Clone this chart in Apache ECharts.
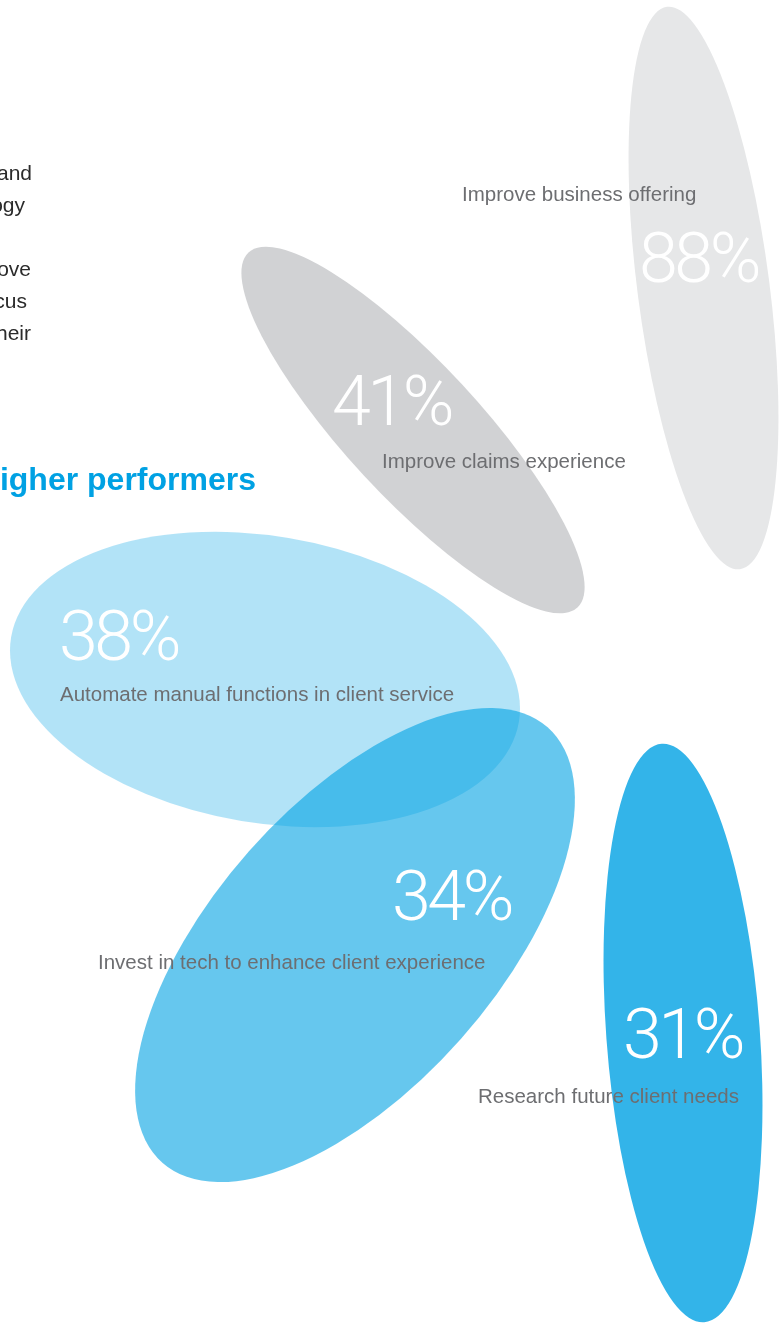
<!DOCTYPE html>
<html>
<head>
<meta charset="utf-8">
<script src="https://cdn.jsdelivr.net/npm/echarts@6/dist/echarts.min.js"></script>
<style>
html,body{margin:0;padding:0;background:#fff;}
#chart{width:780px;height:1323px;}
</style>
</head>
<body>
<div id="chart"></div>
<script>
// ---- data ----
const categories = [
  'Improve business offering',
  'Improve claims experience',
  'Automate manual functions in client service',
  'Invest in tech to enhance client experience',
  'Research future client needs'
];
const values = [88, 41, 38, 34, 31];
const heading = 'Higher performers';
const introWords = ['and', 'technology', 'improve', 'focus', 'their'];

// ---- layout (axis units, 1 unit = 1px) ----
const ellipseCenters = [[703.5, 288], [413, 430], [265, 679.5], [355, 945], [683, 1033]];
const ellipseRadii = [[66, 283.5], [242, 67], [257.4, 143.5], [290.7, 141.6], [76.8, 290]];
const ellipseRotation = [7.4, -47.2, -9.45, 48.5, 4.2]; // degrees, CCW positive
const ellipseColors = ['#e6e7e8', '#d1d2d4', 'rgba(0,161,227,0.3)', 'rgba(0,161,227,0.6)', 'rgba(0,161,227,0.8)'];
const pctPos = [[639, 264], [332, 407], [59, 642], [392, 902], [623, 1040]];
const labelPos = [[462, 195], [382, 462], [60, 695], [98, 963], [478, 1097]];
const introRight = [32, 25, 31, 27, 31];
const introY = [174, 206, 270, 302, 334];

const PCT_FONT = '300 70px Roboto, "Liberation Sans", sans-serif';
const PCT_SPACING = -3.5;
const mctx = document.createElement('canvas').getContext('2d');
mctx.font = PCT_FONT;

const chart = echarts.init(document.getElementById('chart'), null, {renderer: 'canvas'});

const seriesData = values.map((v, i) => ({
  name: categories[i],
  value: [ellipseCenters[i][0], ellipseCenters[i][1], v]
}));

const graphics = introWords.map((w, i) => ({
  type: 'text',
  x: introRight[i],
  y: introY[i],
  style: {
    text: w, fill: '#2b2b2b',
    font: '21px "Liberation Sans", Arial, sans-serif',
    align: 'right', verticalAlign: 'middle'
  }
}));
graphics.push({
  type: 'text', x: 256, y: 481,
  style: {
    text: heading, fill: '#00a1e3',
    font: 'bold 32px "Liberation Sans", Arial, sans-serif',
    align: 'right', verticalAlign: 'middle'
  }
});

chart.setOption({
  animation: false,
  backgroundColor: '#ffffff',
  grid: {left: 0, right: 0, top: 0, bottom: 0},
  xAxis: {type: 'value', min: 0, max: 780, show: false},
  yAxis: {type: 'value', min: 0, max: 1323, inverse: true, show: false},
  graphic: graphics,
  series: [{
    type: 'custom',
    coordinateSystem: 'cartesian2d',
    encode: {x: 0, y: 1},
    data: seriesData,
    renderItem: function (params, api) {
      const i = params.dataIndex;
      const c = api.coord([api.value(0), api.value(1)]);
      const sz = api.size([ellipseRadii[i][0], ellipseRadii[i][1]]);
      const rx = Math.abs(sz[0]), ry = Math.abs(sz[1]);
      const p = api.coord(pctPos[i]);
      const l = api.coord(labelPos[i]);
      const children = [
        {
          type: 'group',
          x: c[0], y: c[1],
          rotation: ellipseRotation[i] * Math.PI / 180,
          children: [{
            type: 'circle',
            shape: {cx: 0, cy: 0, r: ry},
            scaleX: rx / ry,
            style: {fill: ellipseColors[i]}
          }]
        },
        {
          type: 'text', x: l[0], y: l[1], z2: 20,
          style: {
            text: categories[i], fill: '#6d6e71',
            font: '20.5px "Liberation Sans", Arial, sans-serif',
            align: 'left', verticalAlign: 'middle'
          }
        }
      ];
      const chars = (api.value(2) + '%').split('');
      let cx = p[0];
      chars.forEach(ch => {
        children.push({
          type: 'text', x: cx, y: p[1], z2: 20,
          style: {
            text: ch, fill: '#ffffff', font: PCT_FONT,
            align: 'left', verticalAlign: 'middle'
          }
        });
        cx += mctx.measureText(ch).width + PCT_SPACING;
      });
      return {type: 'group', children: children};
    }
  }]
});
</script>
</body>
</html>
